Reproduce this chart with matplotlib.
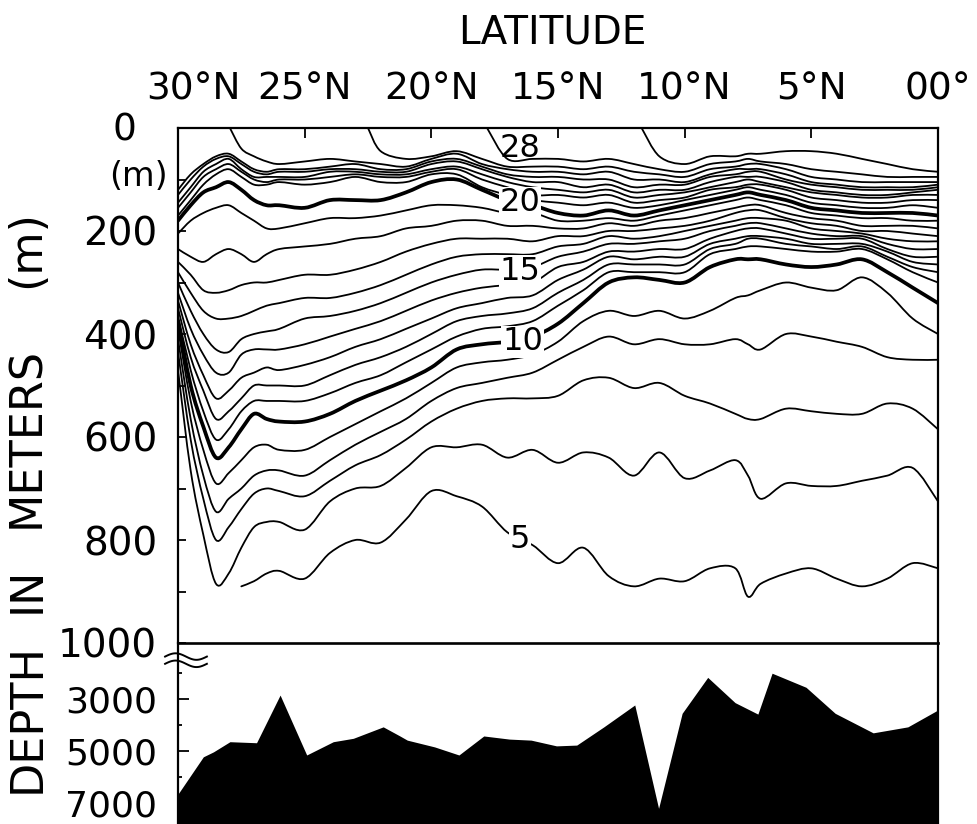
import numpy as np
import matplotlib
matplotlib.use("Agg")
import matplotlib.pyplot as plt
from matplotlib.path import Path
from matplotlib.patches import PathPatch
from matplotlib.transforms import blended_transform_factory, ScaledTranslation

plt.rcParams['font.family'] = ['DejaVu Sans']

nan = np.nan

# latitude grid (deg N) shared by all isotherm depth lists
LAT = [30, 29.5, 29, 28.5, 28, 27.5, 27, 26.5, 26, 25, 24, 23, 22, 21, 20, 19, 18, 17, 16,
       15, 14, 13, 12, 11, 10, 9, 8, 7.5, 7, 6, 5, 4, 3, 2, 1, 0]

# isotherm depths in metres, one list per degree C
T05 = [nan, nan, nan, nan, nan, 890, 880, 865, 860, 875, 825, 800, 805, 760, 705, 715, 735, 785, 810,
       845, 815, 870, 890, 875, 880, 855, 855, 910, 885, 865, 855, 875, 890, 875, 845, 855]
T06 = [470, 665, 790, 885, 865, 815, 775, 765, 765, 780, 725, 700, 695, 660, 620, 620, 615, 640, 625,
       650, 630, 640, 675, 630, 680, 665, 645, 675, 720, 690, 695, 695, 685, 675, 660, 725]
T07 = [435, 605, 720, 800, 775, 740, 710, 700, 705, 715, 685, 655, 635, 605, 570, 545, 530, 525, 525,
       520, 490, 485, 505, 495, 520, 535, 555, 565, 565, 545, 550, 555, 555, 535, 545, 585]
T08 = [410, 565, 675, 745, 720, 700, 675, 665, 665, 675, 645, 615, 590, 565, 530, 505, 495, 485, 475,
       450, 425, 405, 420, 410, 420, 420, 410, 420, 430, 400, 405, 415, 425, 445, 450, 450]
T09 = [390, 530, 625, 690, 670, 645, 620, 615, 625, 625, 600, 575, 550, 525, 495, 465, 455, 450, 440,
       415, 375, 355, 365, 355, 370, 355, 330, 325, 315, 300, 310, 315, 290, 320, 370, 400]
T10 = [375, 500, 580, 640, 620, 585, 555, 565, 570, 570, 555, 530, 510, 490, 465, 430, 420, 415, 405,
       380, 340, 300, 290, 295, 300, 270, 255, 255, 255, 265, 270, 265, 255, 280, 310, 340]
T11 = [365, 470, 550, 605, 585, 550, 530, 530, 530, 530, 515, 495, 480, 455, 430, 405, 390, 385, 375,
       345, 315, 280, 280, 280, 280, 245, 235, 230, 230, 235, 240, 240, 235, 255, 280, 300]
T12 = [350, 445, 510, 565, 550, 525, 500, 500, 500, 500, 480, 460, 445, 425, 400, 375, 365, 360, 350,
       320, 295, 265, 265, 265, 265, 235, 225, 215, 215, 225, 230, 235, 230, 250, 270, 280]
T13 = [335, 420, 480, 525, 510, 485, 475, 465, 470, 460, 445, 425, 410, 390, 370, 350, 340, 330, 325,
       295, 275, 250, 255, 250, 250, 225, 215, 210, 210, 215, 225, 225, 225, 240, 260, 265]
T14 = [320, 390, 440, 475, 475, 440, 430, 430, 430, 420, 405, 390, 375, 355, 335, 320, 310, 305, 300,
       270, 260, 240, 240, 235, 235, 215, 200, 195, 195, 205, 215, 215, 215, 235, 250, 250]
T15 = [300, 355, 400, 430, 435, 410, 400, 395, 390, 370, 365, 355, 340, 320, 300, 285, 275, 275, 270,
       250, 240, 225, 225, 220, 215, 200, 190, 185, 185, 195, 205, 210, 210, 225, 235, 235]
T16 = [280, 320, 355, 370, 370, 365, 355, 345, 340, 330, 330, 320, 305, 285, 265, 250, 245, 245, 245,
       230, 225, 210, 215, 210, 200, 190, 180, 175, 175, 180, 195, 200, 205, 215, 220, 220]
T17 = [260, 285, 315, 320, 315, 305, 300, 300, 295, 285, 285, 275, 260, 240, 225, 215, 215, 215, 220,
       210, 210, 200, 200, 195, 190, 180, 165, 160, 160, 175, 185, 190, 200, 200, 205, 210]
T18 = [235, 250, 260, 245, 235, 245, 260, 245, 235, 230, 225, 215, 210, 195, 190, 180, 180, 190, 190,
       195, 195, 185, 190, 180, 175, 165, 155, 150, 150, 165, 175, 180, 190, 190, 190, 195]
T19 = [205, 180, 165, 155, 150, 165, 180, 195, 195, 185, 175, 175, 170, 160, 150, 150, 155, 165, 165,
       180, 180, 175, 180, 170, 160, 150, 140, 135, 140, 150, 165, 170, 175, 175, 180, 180]
T20 = [180, 150, 125, 115, 105, 120, 140, 150, 150, 155, 140, 140, 140, 125, 105, 100, 120, 140, 150,
       165, 170, 160, 170, 160, 150, 140, 130, 125, 130, 140, 155, 160, 165, 165, 165, 170]
T21 = [170, 140, 110, 90, 80, 95, 110, 110, 105, 110, 105, 95, 105, 105, 90, 90, 115, 130, 140,
       145, 150, 145, 155, 150, 140, 130, 120, 115, 120, 130, 145, 150, 155, 155, 150, 155]
T22 = [155, 125, 95, 80, 70, 85, 100, 105, 100, 100, 95, 90, 95, 95, 85, 80, 100, 115, 130,
       130, 135, 130, 145, 140, 135, 120, 115, 110, 110, 120, 135, 140, 145, 145, 140, 140]
T23 = [145, 115, 85, 70, 60, 80, 95, 95, 95, 95, 85, 85, 90, 90, 80, 75, 90, 105, 115,
       120, 125, 120, 135, 130, 125, 115, 105, 100, 105, 115, 125, 130, 135, 135, 130, 130]
T24 = [130, 100, 75, 60, 55, 70, 85, 90, 85, 85, 80, 80, 85, 85, 70, 65, 80, 95, 105,
       105, 115, 110, 125, 120, 120, 105, 95, 95, 95, 105, 120, 125, 130, 130, 125, 120]
T25 = [120, 90, 70, 55, 50, 65, 80, 85, 80, 80, 75, 70, 80, 80, 65, 60, 75, 90, 95,
       95, 100, 100, 115, 110, 110, 95, 90, 85, 85, 100, 110, 115, 120, 120, 120, 115]
T26 = [nan, nan, nan, nan, nan, 40, 55, 65, 70, 65, 60, 65, 70, 75, 60, 50, 70, 80, 85,
       85, 90, 85, 100, 100, 105, 90, 80, 80, 80, 90, 105, 110, 115, 115, 115, 110]
T27 = [nan, nan, nan, nan, nan, nan, nan, nan, nan, nan, nan, nan, 45, 60, 55, 45, 60, 75, 75,
       75, 80, 75, 85, 90, 95, 80, 75, 70, 70, 80, 95, 100, 105, 105, 105, 105]
T28 = [nan, nan, nan, nan, nan, nan, nan, nan, nan, nan, nan, nan, nan, nan, nan, nan, nan, 60, 60,
       60, 65, 60, 70, 80, 85, 70, 65, 60, 65, 70, 80, 85, 90, 95, 95, 95]
T29 = [nan, nan, nan, nan, nan, nan, nan, nan, nan, nan, nan, nan, nan, nan, nan, nan, nan, nan, nan,
       nan, nan, nan, nan, 55, 70, 55, 55, 50, 50, 45, 45, 50, 60, 70, 80, 85]

TEMPS = list(range(5, 30))
ISOTHERMS = [T05, T06, T07, T08, T09, T10, T11, T12, T13, T14, T15, T16, T17,
             T18, T19, T20, T21, T22, T23, T24, T25, T26, T27, T28, T29]
# latitude where an isotherm reaches the sea surface
OUTCROP = {26: 27.95, 27: 22.5, 28: 17.8, 29: 11.7}
BOLD = [10, 20]

# contour labels: text, latitude, depth
LABEL_T = ['28', '20', '15', '10', '5']
LABEL_LAT = [16.5, 16.5, 16.5, 16.4, 16.5]
LABEL_DEP = [40, 145, 278, 415, 800]

# bottom topography (m)
BATHY_LAT = [30.0, 29.0, 28.6, 27.95, 26.9, 25.97, 24.92, 23.87, 23.08, 21.9, 21.24, 20.95, 19.87,
             18.91, 17.93, 16.92, 16.06, 15.06, 14.26, 13.19, 11.97, 11.03, 10.1, 9.09, 8.01,
             7.11, 6.55, 5.21, 4.06, 2.56, 1.19, 0.0]
BATHY_DEPTH = [6650, 5220, 5030, 4640, 4680, 2850, 5150, 4640, 4510, 4070, 4420, 4580, 4840,
               5150, 4420, 4540, 4580, 4800, 4770, 4070, 3230, 7200, 3550, 2170, 3140,
               3580, 2010, 2550, 3550, 4300, 4070, 3420]

LAT_TICKS = [30, 25, 20, 15, 10, 5, 0]
LAT_LABELS = ['30°N', '25°N', '20°N', '15°N', '10°N', '5°N', '00°']
DEPTH_TICKS = [0, 200, 400, 600, 800, 1000]
DEEP_TICKS = [3000, 5000, 7000]
DEEP_MINOR = [2000, 4000, 6000]

# y-axis title words and their vertical centres (figure pixels from top)
YTITLE_WORDS = ['DEPTH', 'IN', 'METERS', '(m)']
YTITLE_POS = [718, 590, 437, 249]


def smooth_path(x, y):
    # Catmull-Rom curve through the points, drawn as cubic Bezier segments
    pts = np.column_stack([x, y])
    n = len(pts)
    verts = [pts[0]]
    codes = [Path.MOVETO]
    for i in range(n - 1):
        p0 = pts[max(i - 1, 0)]
        p1 = pts[i]
        p2 = pts[i + 1]
        p3 = pts[min(i + 2, n - 1)]
        verts += [p1 + (p2 - p0) / 6.0, p2 - (p3 - p1) / 6.0, p2]
        codes += [Path.CURVE4] * 3
    return Path(verts, codes)


fig = plt.figure(figsize=(9.77, 8.24), dpi=100)
W, H = 977.0, 824.0
ax2 = fig.add_axes([178 / W, 0.0, 760 / W, 181 / H])
ax = fig.add_axes([178 / W, 181 / H, 760 / W, 515 / H])
ax2.set_facecolor('none')

# --- temperature section ---
for temp, depths in zip(TEMPS, ISOTHERMS):
    lat = list(LAT)
    dep = list(depths)
    if temp in OUTCROP:
        first = next(i for i, d in enumerate(dep) if not np.isnan(d))
        lat = [OUTCROP[temp]] + lat[first:]
        dep = [0.0] + dep[first:]
    lat = np.array(lat, float)
    dep = np.array(dep, float)
    ok = ~np.isnan(dep)
    patch = PathPatch(smooth_path(lat[ok], dep[ok]), fill=False, edgecolor='black',
                      lw=2.7 if temp in BOLD else 1.3, capstyle='round', joinstyle='round')
    ax.add_patch(patch)

for txt, la, de in zip(LABEL_T, LABEL_LAT, LABEL_DEP):
    if txt == '28':
        ax.text(la, de, txt, fontsize=23, ha='center', va='center', zorder=5)
    else:
        ax.text(la, de, txt, fontsize=23, ha='center', va='center', zorder=5,
                bbox=dict(facecolor='white', edgecolor='none', pad=0.5))

ax.set_xlim(30, 0)
ax.set_ylim(1000, 0)
ax.xaxis.set_ticks_position('top')
ax.set_xticks(LAT_TICKS)
ax.set_xticklabels(LAT_LABELS)
ax.tick_params(axis='x', which='both', direction='in', length=7, width=1.3, pad=15,
               labelsize=27, top=True, bottom=False, labeltop=True, labelbottom=False)
shift = ScaledTranslation(15 / 100.0, 0, fig.dpi_scale_trans)
lab0 = ax.get_xticklabels()[0]
lab0.set_transform(lab0.get_transform() + shift)

ax.set_yticks(DEPTH_TICKS)
ax.set_yticklabels([''] + [str(d) for d in DEPTH_TICKS[1:]])
ax.set_yticks(np.arange(100, 1000, 200), minor=True)
ax.tick_params(axis='y', which='both', direction='in', length=6, width=1.3, pad=15,
               labelsize=28, left=True, right=False)
for s in ax.spines.values():
    s.set_linewidth(1.6)
ax.spines['bottom'].set_linewidth(1.9)

bt = blended_transform_factory(ax.transAxes, ax.transData)
ax.text(-0.070, 5, '0', transform=bt, fontsize=27, ha='center', va='center')
ax.text(-0.052, 95, '(m)', transform=bt, fontsize=24, ha='center', va='center')

# --- bottom topography ---
ax2.set_xlim(30, 0)
ax2.set_ylim(7800, 850)
ax2.fill_between(BATHY_LAT, BATHY_DEPTH, ax2.get_ylim()[0], color='black', lw=0)
ax2.set_xticks([])
ax2.set_yticks(DEEP_TICKS)
ax2.set_yticklabels([str(d) for d in DEEP_TICKS])
ax2.set_yticks(DEEP_MINOR, minor=True)
ax2.tick_params(axis='y', which='major', direction='in', length=8, width=1.3, pad=15, labelsize=26)
ax2.tick_params(axis='y', which='minor', direction='in', length=3, width=1.3)
ax2.spines['top'].set_visible(False)
ax2.spines['bottom'].set_visible(False)
for s in ('left', 'right'):
    ax2.spines[s].set_linewidth(1.6)

# axis-break mark
t = np.linspace(0, 1, 60)
for base in (0.925, 0.885):
    ax2.plot(-0.017 + 0.055 * t, base + 0.018 * np.sin(2 * np.pi * t), color='black',
             lw=1.4, transform=ax2.transAxes, clip_on=False)

fig.text(552 / W, 1 - 32 / H, 'LATITUDE', fontsize=28, ha='center', va='center')
for word, ypix in zip(YTITLE_WORDS, YTITLE_POS):
    fig.text(27 / W, 1 - ypix / H, word, fontsize=32, rotation=90, ha='center', va='center')

fig.savefig('out.png', dpi=100)
